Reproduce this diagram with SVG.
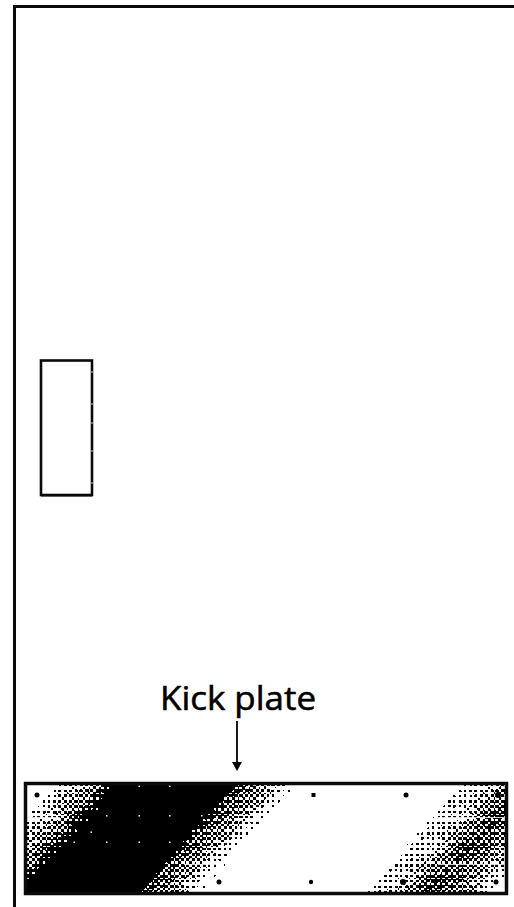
<svg xmlns="http://www.w3.org/2000/svg" width="514" height="907" viewBox="0 0 514 907">
<style>
.ln{fill:none;stroke:#0a0a0a}
.sc{fill:#000}
.wd{fill:#fff}
.lbl{font-family:"Open Sans","Noto Sans",sans-serif;font-size:33px;fill:#000;stroke:#000;stroke-width:.55px}
</style>
<defs>
<linearGradient id="g" gradientUnits="userSpaceOnUse" x1="0" y1="0" x2="744.3" y2="667.8">
<stop offset=".565" stop-color="#fff"/>
<stop offset=".572" stop-color="#b0b0b0"/>
<stop offset=".600" stop-color="#707070"/>
<stop offset=".614" stop-color="#000"/>
<stop offset=".6976" stop-color="#000"/>
<stop offset=".702" stop-color="#606060"/>
<stop offset=".728" stop-color="#909090"/>
<stop offset=".735" stop-color="#c0c0c0"/>
<stop offset=".747" stop-color="#fff"/>
<stop offset=".866" stop-color="#fff"/>
<stop offset=".872" stop-color="#c0c0c0"/>
<stop offset=".892" stop-color="#a0a0a0"/>
<stop offset=".900" stop-color="#808080"/>
<stop offset=".915" stop-color="#606060"/>
<stop offset=".935" stop-color="#808080"/>
<stop offset=".950" stop-color="#a0a0a0"/>
<stop offset=".966" stop-color="#fff"/>
</linearGradient>
<pattern id="b" patternUnits="userSpaceOnUse" width="10.667" height="10.667">
<g shape-rendering="crispEdges">
<rect x="0" y="0" width="2.7" height="2.7" fill="#080808"/><rect x="2.667" y="0" width="2.7" height="2.7" fill="#888"/><rect x="5.333" y="0" width="2.7" height="2.7" fill="#282828"/><rect x="8" y="0" width="2.7" height="2.7" fill="#a8a8a8"/>
<rect x="0" y="2.667" width="2.7" height="2.7" fill="#c8c8c8"/><rect x="2.667" y="2.667" width="2.7" height="2.7" fill="#484848"/><rect x="5.333" y="2.667" width="2.7" height="2.7" fill="#e8e8e8"/><rect x="8" y="2.667" width="2.7" height="2.7" fill="#686868"/>
<rect x="0" y="5.333" width="2.7" height="2.7" fill="#383838"/><rect x="2.667" y="5.333" width="2.7" height="2.7" fill="#b8b8b8"/><rect x="5.333" y="5.333" width="2.7" height="2.7" fill="#181818"/><rect x="8" y="5.333" width="2.7" height="2.7" fill="#989898"/>
<rect x="0" y="8" width="2.7" height="2.7" fill="#f8f8f8"/><rect x="2.667" y="8" width="2.7" height="2.7" fill="#787878"/><rect x="5.333" y="8" width="2.7" height="2.7" fill="#d8d8d8"/><rect x="8" y="8" width="2.7" height="2.7" fill="#585858"/>
</g>
</pattern>
<filter id="th" filterUnits="userSpaceOnUse" x="26" y="783" width="482" height="112" color-interpolation-filters="sRGB">
<feComponentTransfer><feFuncR type="discrete" tableValues="0 1"/><feFuncG type="discrete" tableValues="0 1"/><feFuncB type="discrete" tableValues="0 1"/></feComponentTransfer>
<feGaussianBlur stdDeviation="0.55"/>
</filter>
</defs>
<rect width="514" height="907" fill="#fff"/>
<g id="door">
<path class="ln" stroke-width="3" d="M14.500 907V6.500H514"/>
</g>
<g id="handle">
<rect class="ln" x="41" y="360.500" width="51" height="134.500" stroke-width="2.600"/>
<path class="ln" stroke-width="1.500" d="M41 495.800H92"/>
<path stroke="#ccc" stroke-width="1" fill="none" d="M91 372h2M91 404h2M91 423h2M91 451h2M91 483h2"/>
</g>
<g id="kick-plate">
<g filter="url(#th)">
<rect x="26" y="783" width="482" height="112" fill="url(#g)"/>
<rect x="26" y="783" width="482" height="112" fill="url(#b)" opacity=".5"/>
</g>
<path stroke="#fff" stroke-width="1" opacity=".8" fill="none" d="M28 817.500H60M438 817.500H504M438 864.500H504M184 864.500H222"/>
<g class="wd">
<rect x="73.500" y="841.500" width="1.500" height="1.500"/><rect x="90.500" y="831.500" width="1.500" height="1.500"/>
<rect x="106" y="815" width="1.500" height="1.500"/><rect x="138.500" y="815" width="1.500" height="1.500"/><rect x="169" y="815" width="1.500" height="1.500"/><rect x="201" y="815" width="1.500" height="1.500"/>
<rect x="106" y="841.500" width="1.500" height="1.500"/><rect x="138.500" y="841.500" width="1.500" height="1.500"/><rect x="169" y="841.500" width="1.500" height="1.500"/>
<rect x="138.500" y="785.500" width="1.500" height="1.500"/><rect x="169" y="785.500" width="1.500" height="1.500"/>
</g>
<g class="sc">
<circle cx="37" cy="795" r="2.500"/><circle cx="219" cy="882" r="2.500"/><rect x="311.500" y="793" width="4" height="4"/><circle cx="406" cy="795" r="2.500"/><circle cx="311" cy="882" r="2.200"/><circle cx="403" cy="882" r="3"/><circle cx="498" cy="795" r="3"/><circle cx="496" cy="882" r="2.500"/>
</g>
<rect class="ln" x="25.500" y="783.500" width="481" height="110" stroke-width="3.500"/>
</g>
<g id="label">
<text class="lbl" x="160" y="710" textLength="156" lengthAdjust="spacingAndGlyphs">Kick plate</text>
</g>
<g id="connectors">
<path d="M237 721V764" stroke="#000" stroke-width="1.800" fill="none"/>
<path d="M232 762H242L237 771Z" fill="#000"/>
</g>
</svg>
